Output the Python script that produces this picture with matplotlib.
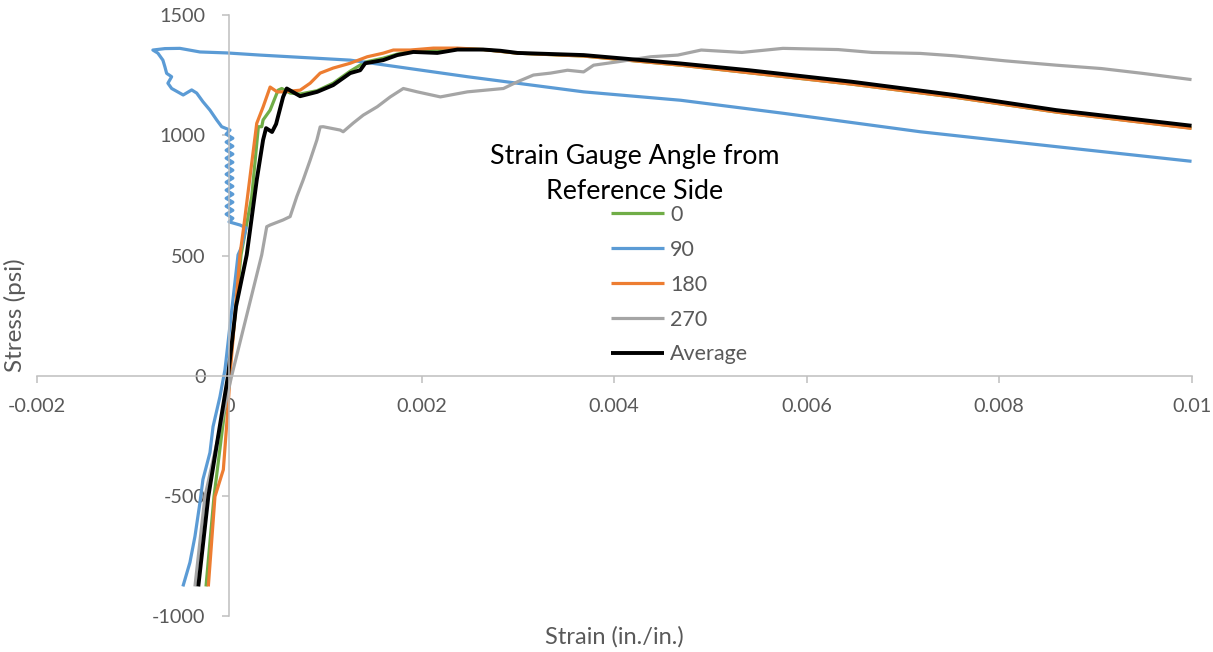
# Stress-strain curves for each strain gauge angle

import matplotlib
matplotlib.use("Agg")
import matplotlib.pyplot as plt


# strain (in./in.) and stress (psi)
strain_0 = [-0.000239, -0.000156, 0.0, 0.000125, 0.000236, 0.000305, 0.00034, 0.000354,
            0.000427, 0.00051, 0.000548, 0.000635, 0.000739, 0.000916, 0.001082, 0.001259,
            0.001415, 0.001602, 0.001748, 0.001915, 0.002164, 0.002373, 0.002643, 0.002997,
            0.003684, 0.004693, 0.006472, 0.007534, 0.008595, 0.01]
stress_0 = [-877, -503, 0, 503, 745, 1036, 1036, 1064,
            1105, 1188, 1195, 1176, 1172, 1186, 1217, 1267,
            1305, 1321, 1338, 1352, 1355, 1361, 1357, 1342,
            1330, 1292, 1213, 1159, 1097, 1030]

strain_90 = [-0.000479, -0.000406, -0.000354, -0.000302, -0.000271, -0.000198, -0.000166,
             -0.000094, -0.000042, 0.000094, 0.000132, 0.000177, 0.000114, 0.0,
             0.00004, -0.00003, 0.00004, -0.00003, 0.00004, -0.00003, 0.00004, -0.00003,
             0.00004, -0.00003, 0.00004, -0.00003, 0.00004, -0.00003, 0.00004, -0.00003,
             0.00004, -0.00003, 0.00004, -0.00003, 0.00004, -0.00003, 0.00001,
             -0.000076, -0.000128, -0.000198, -0.000271, -0.000336, -0.000388, -0.000476,
             -0.000596, -0.000635, -0.000596, -0.000648, -0.000666, -0.000687, -0.000739,
             -0.000791, -0.000666, -0.00051, -0.000302, -0.000024, 0.000323, 0.001259,
             0.002477, 0.003684, 0.004693, 0.005755, 0.00718, 0.008595, 0.01]
stress_90 = [-877, -777, -669, -528, -432, -320, -212,
             -87, 25, 503, 537, 615, 627, 640,
             655, 672, 688, 705, 722, 738, 755, 772,
             788, 805, 822, 838, 855, 872, 888, 905,
             922, 938, 955, 972, 988, 1005, 1022,
             1036, 1064, 1105, 1140, 1176, 1189, 1168,
             1195, 1217, 1244, 1258, 1285, 1313, 1342,
             1355, 1361, 1362, 1347, 1343, 1334, 1313,
             1244, 1181, 1146, 1092, 1015, 953, 892]

strain_180 = [-0.000215, -0.000146, -0.000059, -0.000007, 0.00001, 0.000114, 0.000149,
              0.000288, 0.000354, 0.000427, 0.0005, 0.000562, 0.000739, 0.000843, 0.000947,
              0.001082, 0.001259, 0.001436, 0.001602, 0.001707, 0.001883, 0.002123, 0.002373,
              0.002643, 0.002997, 0.003684, 0.004693, 0.006472, 0.007534, 0.008595, 0.01]
stress_180 = [-877, -503, -391, -112, 0, 503, 607,
              1050, 1118, 1201, 1181, 1181, 1188, 1217, 1259,
              1280, 1300, 1327, 1342, 1355, 1355, 1363, 1363,
              1357, 1342, 1330, 1292, 1213, 1159, 1097, 1029]

strain_270 = [-0.000354, -0.00025, 0.000028, 0.00034, 0.000392, 0.000427, 0.000562, 0.000635,
              0.000704, 0.00077, 0.000843, 0.000913, 0.000947, 0.000978, 0.001155, 0.001186,
              0.00129, 0.001394, 0.00154, 0.001675, 0.001811, 0.001956, 0.002196, 0.002477,
              0.002851, 0.002997, 0.003163, 0.00334, 0.003517, 0.003684, 0.003788, 0.004037,
              0.004381, 0.004662, 0.004906, 0.005328, 0.005755, 0.006327, 0.006681, 0.00718,
              0.007534, 0.008065, 0.008595, 0.009063, 0.00949, 0.01]
stress_270 = [-877, -503, 0, 503, 620, 627, 648, 662,
              745, 814, 897, 981, 1035, 1036, 1022, 1015,
              1051, 1084, 1119, 1160, 1195, 1181, 1160, 1181,
              1195, 1223, 1251, 1259, 1271, 1264, 1292, 1306,
              1327, 1334, 1355, 1345, 1362, 1357, 1345, 1341,
              1331, 1310, 1292, 1278, 1258, 1232]

strain_avg = [-0.000319, -0.000215, -0.00001, 0.000073, 0.000184, 0.000219, 0.000288, 0.000354,
              0.000385, 0.000447, 0.000489, 0.000562, 0.0006, 0.000739, 0.000916, 0.001082,
              0.001259, 0.001363, 0.001415, 0.001602, 0.001748, 0.001915, 0.002164, 0.002373,
              0.002643, 0.00282, 0.002997, 0.003684, 0.004693, 0.005401, 0.006472, 0.007534,
              0.008595, 0.01]
stress_avg = [-877, -503, 0, 288, 503, 607, 814, 981,
              1030, 1014, 1047, 1160, 1195, 1163, 1181, 1209,
              1259, 1271, 1300, 1313, 1334, 1347, 1343, 1357,
              1357, 1352, 1343, 1334, 1299, 1271, 1223, 1168,
              1105, 1040]

series = [
    ("0", strain_0, stress_0, "#70AD47", 2.3),
    ("90", strain_90, stress_90, "#5B9BD5", 2.3),
    ("180", strain_180, stress_180, "#ED7D31", 2.3),
    ("270", strain_270, stress_270, "#A5A5A5", 2.3),
    ("Average", strain_avg, stress_avg, "#000000", 2.8),
]

plt.rcParams['font.family'] = ['Lato', 'DejaVu Sans']
plt.rcParams['axes.unicode_minus'] = False
axis_grey = "#BFBFBF"
text_grey = "#595959"

fig = plt.figure(figsize=(12.13, 6.52), dpi=100)
ax = fig.add_axes([0.0301, 0.0552, 0.9522, 0.9215])

for name, x, y, color, lw in series:
    ax.plot(x, y, color=color, lw=lw, label=name, solid_joinstyle="round", solid_capstyle="butt")

ax.set_xlim(-0.002, 0.01)
ax.set_ylim(-1000, 1500)
ax.set_xticks([-0.002, 0, 0.002, 0.004, 0.006, 0.008, 0.01])
ax.set_xticklabels(["-0.002", "0", "0.002", "0.004", "0.006", "0.008", "0.01"])
ax.set_yticks([-1000, -500, 0, 500, 1000, 1500])

ax.spines["left"].set_position(("data", 0))
ax.spines["bottom"].set_position(("data", 0))
ax.spines["top"].set_visible(False)
ax.spines["right"].set_visible(False)
for s in ("left", "bottom"):
    ax.spines[s].set_color(axis_grey)
    ax.spines[s].set_linewidth(1.1)

ax.tick_params(axis="both", direction="out", length=5, width=1.1, color=axis_grey,
               labelcolor=text_grey, labelsize=14.3)
ax.tick_params(axis="x", pad=11)
ax.tick_params(axis="y", pad=12)

ax.set_xlabel("Strain (in./in.)", fontsize=17, color=text_grey)
ax.set_ylabel("Stress (psi)", fontsize=17.5, color=text_grey)
ax.xaxis.set_label_coords(0.5, -0.017)
ax.yaxis.set_label_coords(-0.009, 0.5)

fig.text(635 / 1213, 1 - 174 / 652, "Strain Gauge Angle from\nReference Side",
         ha="center", va="center", fontsize=19.3, color="black", linespacing=1.52)
leg = ax.legend(loc="upper left", bbox_to_anchor=(611 / 1213, 1 - 205 / 652),
                bbox_transform=fig.transFigure, frameon=False, fontsize=15.5,
                borderpad=0, borderaxespad=0, handlelength=2.45, handletextpad=0.3,
                labelspacing=0.69)
for t in leg.get_texts():
    t.set_color(text_grey)

fig.savefig("out.png", dpi=100)
